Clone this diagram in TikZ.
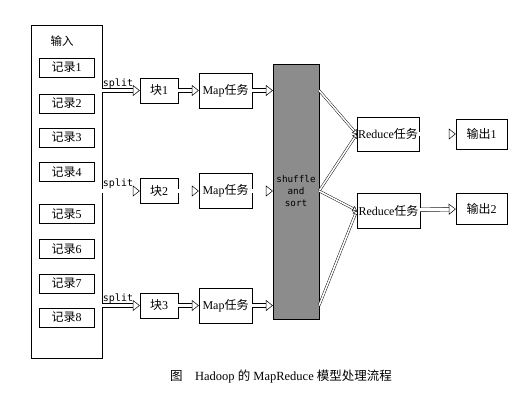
\documentclass[tikz,border=0pt]{standalone}
\usepackage{fontspec}
\setmainfont{Liberation Serif}
\newfontfamily\cjk{Noto Sans CJK SC}
\newfontfamily\monof{DejaVu Sans Mono}
\usepackage{tikz}
\usetikzlibrary{arrows.meta}
\newcommand{\zh}[1]{{\cjk #1}}
\definecolor{shufflegray}{RGB}{140,140,140}
\tikzset{
    box/.style={draw, inner sep=0pt, font=\fontsize{12}{14}\selectfont},
    hollow/.style={draw, double, double distance=3.2pt, line width=0.5pt,
        -{Triangle[open, length=7pt, width=11pt]}},
    thinhollow/.style={draw, double, double distance=1.6pt, line width=0.45pt,
        -{Triangle[open, length=4pt, width=6pt]}}
}

\begin{document}
\begin{tikzpicture}[x=1pt, y=-1pt]
    \useasboundingbox (0,0) rectangle (521,406);
    % input and records
    \node[draw, minimum width=71pt, minimum height=333pt] (in) at (66.5,191.5) {};
    \node[font=\fontsize{11.5}{13}\selectfont] (in-l) at (62,41) {\zh{输入}};
    \foreach[count=\i] \y in {67.5,103.5,137.5,172,214,249,283.5,317.5} {
        \node[box, minimum width=55pt, minimum height=19pt] (r-\i) at (66.5,\y) {\zh{记录}\i};
    }
    % shuffle and sort
    \node[draw, fill=shufflegray, minimum width=42pt, minimum height=255pt,
        align=center, font=\monof\fontsize{9.3}{12}\selectfont] (ss) at (296,191.5)
        {shuffle\\and\\sort};
    % blocks and map tasks
    \foreach[count=\i] \y in {90.5,191,305.5} {
        \node[box, minimum width=38pt, minimum height=25pt] (b-\i) at (159,\y) {\zh{块}\i};
        \node[box, minimum width=53pt, minimum height=35pt] (m-\i) at (225.5,\y) {Map\zh{任务}};
        \draw[hollow] (in.east |- b-\i) -- node[pos=0.42, above=-1.5pt,
            font=\monof\fontsize{10}{12}\selectfont] {split} (b-\i);
        \draw[hollow] (b-\i) -- (m-\i);
        \draw[hollow] (m-\i) -- (m-\i -| ss.west);
        \coordinate (s-\i) at (ss.east |- m-\i);
    }
    % reduce tasks and outputs
    \node[box, minimum width=62pt, minimum height=34pt] (red-1) at (388,134) {Reduce\zh{任务}};
    \node[box, minimum width=63pt, minimum height=35pt] (red-2) at (388.5,210.5) {Reduce\zh{任务}};
    \node[box, minimum width=51pt, minimum height=30pt] (out-1) at (481.5,134) {\zh{输出}1};
    \node[box, minimum width=51pt, minimum height=31pt] (out-2) at (481.5,208.5) {\zh{输出}2};

    \draw[thinhollow] (s-1) -- (red-1.west);
    \draw[thinhollow] (s-2) -- (red-1.west);
    \draw[thinhollow] (s-2) -- (red-2.west);
    \draw[thinhollow] (s-3) -- (red-2.west);
    \draw[hollow] (red-1) -- (out-1);
    \draw[hollow] (red-2) -- (out-2);

    \node[font=\fontsize{12.5}{14}\selectfont] (cap) at (281,377)
        {\zh{图}\quad Hadoop \zh{的} MapReduce \zh{模型处理流程}};
\end{tikzpicture}
\end{document}
